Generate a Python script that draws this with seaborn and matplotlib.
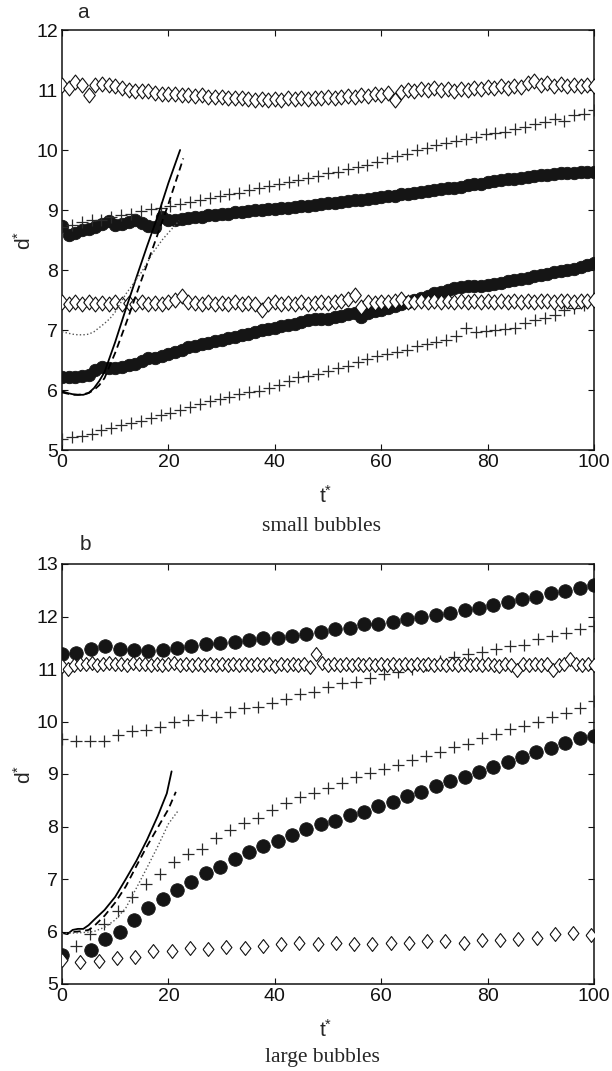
import numpy as np
import matplotlib
matplotlib.use("Agg")
import matplotlib.pyplot as plt
import seaborn as sns

# ---------------- Panel a : small bubbles ----------------
a_t_dia = np.linspace(0, 100, 81)
a_dia_hi = [11.08, 11.03, 11.14, 11.08, 10.92, 11.08, 11.10, 11.08, 11.06, 11.03,
            11.00, 10.98, 10.99, 10.98, 10.95, 10.94, 10.93, 10.93, 10.92, 10.91,
            10.90, 10.91, 10.89, 10.88, 10.89, 10.87, 10.86, 10.87, 10.85, 10.84,
            10.85, 10.84, 10.85, 10.84, 10.86, 10.85, 10.86, 10.85, 10.87, 10.86,
            10.88, 10.87, 10.89, 10.90, 10.89, 10.92, 10.90, 10.93, 10.92, 10.95,
            10.83, 10.97, 11.00, 10.98, 11.02, 11.00, 11.03, 11.00, 11.02, 10.99,
            11.02, 11.00, 11.03, 11.01, 11.05, 11.03, 11.06, 11.04, 11.07, 11.05,
            11.12, 11.15, 11.08, 11.12, 11.06, 11.10, 11.07, 11.09, 11.06, 11.08,
            11.07]
a_dia_lo = [7.46, 7.44, 7.47, 7.43, 7.46, 7.44, 7.45, 7.43, 7.46, 7.44,
            7.45, 7.43, 7.46, 7.44, 7.45, 7.44, 7.47, 7.50, 7.56, 7.47,
            7.45, 7.44, 7.46, 7.43, 7.45, 7.44, 7.46, 7.43, 7.45, 7.44,
            7.33, 7.44, 7.46, 7.43, 7.45, 7.44, 7.46, 7.44, 7.45, 7.47,
            7.45, 7.46, 7.48, 7.52, 7.58, 7.38, 7.46, 7.45, 7.47, 7.46,
            7.48, 7.52, 7.47, 7.46, 7.48, 7.47, 7.49, 7.47, 7.48, 7.46,
            7.48, 7.47, 7.49, 7.47, 7.48, 7.46, 7.48, 7.47, 7.49, 7.47,
            7.48, 7.47, 7.49, 7.48, 7.47, 7.49, 7.48, 7.47, 7.49, 7.48,
            7.50]

a_t_circ = np.linspace(0, 100, 81)
a_circ_hi = [8.73, 8.58, 8.62, 8.67, 8.69, 8.71, 8.76, 8.81, 8.75, 8.77,
             8.80, 8.83, 8.79, 8.74, 8.71, 8.88, 8.83, 8.84, 8.85, 8.86,
             8.88, 8.89, 8.91, 8.92, 8.93, 8.94, 8.96, 8.97, 8.99, 9.00,
             9.00, 9.01, 9.02, 9.03, 9.04, 9.05, 9.06, 9.07, 9.09, 9.10,
             9.11, 9.12, 9.14, 9.15, 9.16, 9.17, 9.19, 9.20, 9.22, 9.23,
             9.24, 9.26, 9.27, 9.29, 9.30, 9.32, 9.33, 9.35, 9.36, 9.37,
             9.39, 9.41, 9.43, 9.44, 9.46, 9.48, 9.50, 9.51, 9.52, 9.54,
             9.55, 9.57, 9.58, 9.59, 9.60, 9.61, 9.62, 9.62, 9.63, 9.63,
             9.64]
a_circ_lo = [6.21, 6.22, 6.22, 6.23, 6.25, 6.33, 6.39, 6.36, 6.37, 6.39,
             6.41, 6.44, 6.48, 6.53, 6.54, 6.57, 6.60, 6.63, 6.67, 6.71,
             6.74, 6.77, 6.79, 6.81, 6.83, 6.86, 6.88, 6.91, 6.94, 6.97,
             7.00, 7.02, 7.04, 7.06, 7.08, 7.10, 7.13, 7.16, 7.19, 7.18,
             7.18, 7.21, 7.24, 7.27, 7.28, 7.21, 7.28, 7.31, 7.33, 7.36,
             7.40, 7.43, 7.47, 7.50, 7.54, 7.57, 7.61, 7.64, 7.67, 7.70,
             7.72, 7.73, 7.74, 7.74, 7.75, 7.77, 7.79, 7.81, 7.83, 7.85,
             7.87, 7.90, 7.92, 7.94, 7.96, 7.98, 8.00, 8.02, 8.05, 8.08,
             8.11]

a_t_plus = np.linspace(0, 100, 55)
a_plus_hi = [8.72, 8.75, 8.80, 8.83, 8.84, 8.88, 8.92, 8.94, 8.98, 9.01,
             9.04, 9.07, 9.10, 9.13, 9.17, 9.20, 9.23, 9.26, 9.29, 9.33,
             9.36, 9.40, 9.43, 9.47, 9.50, 9.53, 9.57, 9.61, 9.64, 9.68,
             9.72, 9.75, 9.80, 9.86, 9.90, 9.93, 10.00, 10.04, 10.09, 10.11,
             10.15, 10.19, 10.22, 10.26, 10.28, 10.30, 10.35, 10.38, 10.43, 10.47,
             10.52, 10.48, 10.58, 10.60, 10.66]
a_plus_lo = [5.18, 5.21, 5.23, 5.27, 5.33, 5.37, 5.41, 5.45, 5.49, 5.54,
             5.58, 5.62, 5.66, 5.72, 5.77, 5.81, 5.85, 5.89, 5.93, 5.96,
             5.99, 6.04, 6.09, 6.15, 6.21, 6.24, 6.27, 6.31, 6.36, 6.40,
             6.46, 6.51, 6.56, 6.60, 6.63, 6.67, 6.73, 6.77, 6.80, 6.84,
             6.90, 7.03, 6.96, 6.98, 7.00, 7.02, 7.04, 7.12, 7.16, 7.20,
             7.25, 7.33, 7.36, 7.42, 7.48]

a_solid_t = [0, 1, 2, 3, 4, 5, 6, 7, 8, 10, 12, 14, 16, 18, 20, 22.2]
a_solid_d = [5.98, 5.95, 5.93, 5.92, 5.92, 5.95, 6.03, 6.15, 6.30, 6.80, 7.35, 7.88, 8.40, 8.90, 9.45, 10.00]
a_dash_t = [0, 1, 2, 3, 4, 5, 6, 7, 8, 10, 12, 14, 16, 18, 20, 22.8]
a_dash_d = [5.96, 5.94, 5.92, 5.92, 5.93, 5.95, 6.00, 6.08, 6.20, 6.62, 7.10, 7.60, 8.10, 8.60, 9.10, 9.86]
a_dot_t = [0, 1, 2, 3, 4, 5, 6, 7, 8, 9, 10, 11, 12, 13, 14, 15, 16, 17, 18, 19, 20, 21, 22]
a_dot_d = [6.97, 6.95, 6.93, 6.92, 6.92, 6.93, 6.97, 7.04, 7.11, 7.19, 7.30, 7.45, 7.60, 7.72,
           7.85, 7.97, 8.12, 8.28, 8.40, 8.52, 8.62, 8.72, 8.82]

# ---------------- Panel b : large bubbles ----------------
b_t_circ = np.linspace(0, 100, 38)
b_circ_hi = [11.29, 11.31, 11.39, 11.44, 11.38, 11.36, 11.35, 11.36, 11.40, 11.44,
             11.47, 11.50, 11.52, 11.55, 11.60, 11.60, 11.63, 11.67, 11.71, 11.76,
             11.79, 11.85, 11.85, 11.90, 11.96, 12.00, 12.03, 12.06, 12.12, 12.17,
             12.22, 12.28, 12.33, 12.38, 12.44, 12.49, 12.54, 12.60]
b_circ_lo = [5.55, np.nan, 5.65, 5.85, 6.00, 6.22, 6.44, 6.61, 6.79, 6.94,
             7.11, 7.23, 7.38, 7.52, 7.62, 7.72, 7.84, 7.95, 8.05, 8.11,
             8.22, 8.28, 8.39, 8.47, 8.59, 8.66, 8.78, 8.87, 8.95, 9.04,
             9.14, 9.23, 9.33, 9.41, 9.49, 9.59, 9.68, 9.73]

b_t_plus = np.linspace(0, 100, 39)
b_plus_hi = [9.66, 9.63, 9.63, 9.63, 9.74, 9.82, 9.84, 9.90, 10.00, 10.02,
             10.12, 10.09, 10.19, 10.25, 10.28, 10.36, 10.42, 10.52, 10.57, 10.66,
             10.73, 10.76, 10.82, 10.90, 10.95, 11.00, 11.07, 11.15, 11.23, 11.29,
             11.33, 11.39, 11.43, 11.46, 11.58, 11.62, 11.68, 11.76, 11.81]
b_plus_lo = [np.nan, 5.72, 5.95, 6.14, 6.40, 6.66, 6.90, 7.09, 7.32, 7.48,
             7.58, 7.79, 7.93, 8.06, 8.17, 8.31, 8.44, 8.56, 8.63, 8.73,
             8.82, 8.95, 9.01, 9.09, 9.17, 9.27, 9.34, 9.42, 9.52, 9.58,
             9.68, 9.76, 9.85, 9.91, 10.00, 10.09, 10.17, 10.25, 10.40]

b_t_dia_hi = np.linspace(0, 100, 91)
b_dia_hi = [11.05, 11.00, 11.08, 11.10, 11.09, 11.11, 11.08, 11.10, 11.12, 11.09,
            11.10, 11.08, 11.11, 11.09, 11.10, 11.07, 11.10, 11.08, 11.09, 11.11,
            11.08, 11.10, 11.07, 11.09, 11.08, 11.10, 11.07, 11.09, 11.08, 11.10,
            11.07, 11.09, 11.08, 11.10, 11.07, 11.09, 11.06, 11.10, 11.08, 11.09,
            11.07, 11.10, 11.04, 11.28, 11.12, 11.08, 11.09, 11.07, 11.10, 11.08,
            11.09, 11.07, 11.10, 11.08, 11.09, 11.07, 11.10, 11.08, 11.09, 11.07,
            11.10, 11.08, 11.09, 11.07, 11.10, 11.08, 11.09, 11.07, 11.10, 11.08,
            11.09, 11.07, 11.10, 11.08, 11.05, 11.10, 11.08, 10.98, 11.09, 11.07,
            11.10, 11.08, 11.09, 10.98, 11.08, 11.10, 11.20, 11.09, 11.07, 11.10,
            11.08]
b_t_dia_lo = np.linspace(0, 99.5, 30)
b_dia_lo = [5.46, 5.41, 5.44, 5.49, 5.52, 5.62, 5.63, 5.68, 5.66, 5.71,
            5.69, 5.72, 5.76, 5.78, 5.76, 5.78, 5.77, 5.77, 5.79, 5.78,
            5.82, 5.82, 5.79, 5.84, 5.84, 5.86, 5.88, 5.95, 5.97, 5.93]

b_solid_t = [0, 1, 2, 3, 4, 5, 6, 8, 10, 12, 14, 16, 18, 19.7, 20.6]
b_solid_d = [5.98, 5.95, 6.03, 6.05, 6.05, 6.12, 6.22, 6.41, 6.66, 7.00, 7.35, 7.75, 8.20, 8.63, 9.05]
b_dash_t = [0, 1, 2, 3, 4, 5, 6, 8, 10, 12, 14, 16, 18, 20, 21.4]
b_dash_d = [5.97, 5.96, 5.99, 6.00, 6.01, 6.03, 6.10, 6.30, 6.55, 6.86, 7.25, 7.63, 7.98, 8.33, 8.66]
b_dot_t = [0, 2, 4, 6, 8, 10, 12, 14, 16, 18, 20, 21.9]
b_dot_d = [5.96, 5.97, 5.98, 6.00, 6.08, 6.22, 6.45, 6.83, 7.22, 7.62, 8.05, 8.31]

x_ticks = [0, 20, 40, 60, 80, 100]
a_y_ticks = [5, 6, 7, 8, 9, 10, 11, 12]
b_y_ticks = [5, 6, 7, 8, 9, 10, 11, 12, 13]

# ---------------- style ----------------
sns.set_theme(style="ticks")
plt.rcParams["font.family"] = ["Liberation Sans", "DejaVu Sans"]
plt.rcParams["mathtext.fontset"] = "custom"
plt.rcParams["mathtext.rm"] = "Liberation Sans"
plt.rcParams["mathtext.it"] = "Liberation Sans"
plt.rcParams["mathtext.default"] = "regular"

DIAMOND = [(-0.78, 0), (0, 1), (0.78, 0), (0, -1), (-0.78, 0)]

fig = plt.figure(figsize=(6.12, 10.71), dpi=100)
W, H = 612.0, 1071.0


def add_axes(left, top, right, bottom):
    return fig.add_axes([left / W, 1 - bottom / H, (right - left) / W, (bottom - top) / H])


ax_a = add_axes(62, 30, 594, 450)
ax_b = add_axes(62, 564, 594, 984)


def circles(ax, t, d, s):
    sns.scatterplot(x=t, y=d, ax=ax, marker="o", s=s, color="#151515",
                    edgecolor="#151515", linewidth=0.6, zorder=2, legend=False)


def pluses(ax, t, d, s):
    sns.scatterplot(x=t, y=d, ax=ax, marker="+", s=s, color="#2a2a2a",
                    linewidth=0.9, zorder=3, legend=False)


def diamonds(ax, t, d, s):
    sns.scatterplot(x=t, y=d, ax=ax, marker=DIAMOND, s=s, color="white",
                    edgecolor="#111111", linewidth=0.8, zorder=4, legend=False)


def lines(ax, st, sd, dt, dd, ot, od):
    sns.lineplot(x=st, y=sd, ax=ax, color="black", linewidth=1.3, zorder=5, legend=False)
    sns.lineplot(x=dt, y=dd, ax=ax, color="black", linewidth=1.3, linestyle=(0, (4, 2.5)),
                 zorder=5, legend=False)
    sns.lineplot(x=ot, y=od, ax=ax, color="#555555", linewidth=1.0, linestyle=(0, (1, 1.6)),
                 zorder=5, legend=False)


# panel a
circles(ax_a, a_t_circ, a_circ_hi, 80)
circles(ax_a, a_t_circ, a_circ_lo, 80)
pluses(ax_a, a_t_plus, a_plus_hi, 75)
pluses(ax_a, a_t_plus, a_plus_lo, 75)
diamonds(ax_a, a_t_dia, a_dia_hi, 115)
diamonds(ax_a, a_t_dia, a_dia_lo, 115)
lines(ax_a, a_solid_t, a_solid_d, a_dash_t, a_dash_d, a_dot_t, a_dot_d)

# panel b
circles(ax_b, b_t_circ, b_circ_hi, 95)
circles(ax_b, b_t_circ, b_circ_lo, 95)
pluses(ax_b, b_t_plus, b_plus_hi, 80)
pluses(ax_b, b_t_plus, b_plus_lo, 80)
diamonds(ax_b, b_t_dia_hi, b_dia_hi, 100)
diamonds(ax_b, b_t_dia_lo, b_dia_lo, 100)
lines(ax_b, b_solid_t, b_solid_d, b_dash_t, b_dash_d, b_dot_t, b_dot_d)

for ax, yt in ((ax_a, a_y_ticks), (ax_b, b_y_ticks)):
    ax.set_xlim(0, 100)
    ax.set_ylim(yt[0], yt[-1])
    ax.set_xticks(x_ticks)
    ax.set_yticks(yt)
    ax.set_xlabel("")
    ax.set_ylabel("")
    ax.tick_params(direction="in", top=True, right=True, length=4, width=0.8,
                   labelsize=14, colors="#111111", pad=3)
    for sp in ax.spines.values():
        sp.set_visible(True)
        sp.set_linewidth(1.1)
        sp.set_color("#111111")
    ax.set_facecolor("white")
    ax.grid(False)

# labels
fig.text(83 / W, 1 - 13 / H, "a", ha="center", va="center", fontsize=15)
fig.text(85 / W, 1 - 545 / H, "b", ha="center", va="center", fontsize=15)
for yc in (240, 774):
    fig.text(24 / W, 1 - yc / H, r"$\mathregular{d^{*}}$", rotation=90,
             ha="center", va="center", fontsize=15)
fig.text(326 / W, 1 - 503 / H, r"$\mathregular{t^{*}}$", ha="center", va="baseline", fontsize=15)
fig.text(326 / W, 1 - 1037 / H, r"$\mathregular{t^{*}}$", ha="center", va="baseline", fontsize=15)
fig.text(322 / W, 1 - 531 / H, "small bubbles", ha="center", va="baseline",
         fontsize=15.5, family=["Liberation Serif", "DejaVu Serif"])
fig.text(322 / W, 1 - 1062 / H, "large bubbles", ha="center", va="baseline",
         fontsize=15.5, family=["Liberation Serif", "DejaVu Serif"])

fig.savefig("out.png", dpi=100, facecolor="white")
